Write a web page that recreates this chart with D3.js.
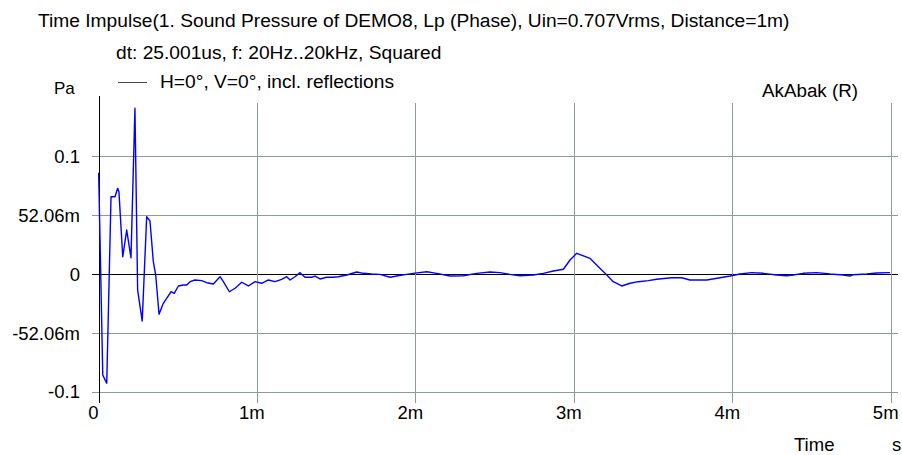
<!DOCTYPE html>
<html>
<head>
<meta charset="utf-8">
<script src="https://cdn.jsdelivr.net/npm/d3@7"></script>
<style>
  body { margin: 0; background: #fff; }
  svg text { font-family: "Liberation Sans", Arial, sans-serif; fill: #000; }
  .head { font-size: 19.2px; }
  .tick-label { font-size: 18.5px; }
</style>
</head>
<body>
<div id="chart"></div>
<script>
// time in ms, pressure in Pa
var timeMs = [
  0.001, 0.027, 0.037, 0.052, 0.079, 0.104, 0.121, 0.129, 0.153, 0.178,
  0.205, 0.230, 0.247, 0.276, 0.304, 0.325, 0.346, 0.361, 0.382, 0.409,
  0.430, 0.458, 0.478, 0.504, 0.535, 0.557, 0.578, 0.609, 0.651, 0.683,
  0.725, 0.767, 0.788, 0.826, 0.862, 0.904, 0.946, 0.988, 1.030, 1.072,
  1.114, 1.156, 1.188, 1.209, 1.240, 1.272, 1.303, 1.346, 1.367, 1.398,
  1.440, 1.482, 1.514, 1.567, 1.630, 1.671, 1.724, 1.777, 1.840, 1.882,
  1.945, 1.987, 2.072, 2.135, 2.219, 2.303, 2.387, 2.471, 2.534, 2.597,
  2.660, 2.744, 2.807, 2.871, 2.934, 2.976, 3.018, 3.102, 3.155, 3.208,
  3.249, 3.302, 3.355, 3.407, 3.470, 3.523, 3.618, 3.681, 3.733, 3.839,
  3.923, 3.986, 4.049, 4.123, 4.196, 4.281, 4.344, 4.385, 4.448, 4.533,
  4.617, 4.680, 4.743, 4.764, 4.849, 4.912, 4.996
];
var pressure = [
  0.0896, -0.0893, -0.0923, -0.0967, 0.0684, 0.0684, 0.0758, 0.0728, 0.0153, 0.0389,
  0.0144, 0.1466, -0.0142, -0.0416, 0.0507, 0.0469, 0.0109, -0.0009, -0.0356, -0.0259,
  -0.0215, -0.0157, -0.0171, -0.0106, -0.0097, -0.0097, -0.0068, -0.0053, -0.0059, -0.0077,
  -0.0088, -0.0024, -0.0068, -0.0157, -0.0126, -0.0073, -0.0106, -0.0068, -0.0082, -0.0053,
  -0.0068, -0.0047, -0.0024, -0.0053, -0.0024, 0.0012, -0.0029, -0.0029, -0.0018, -0.0044,
  -0.0029, -0.0029, -0.0024, -0.0009, 0.0018, 0.0006, 0.0000, -0.0003, -0.0029, -0.0018,
  -0.0003, 0.0006, 0.0020, 0.0006, -0.0018, -0.0015, 0.0006, 0.0018, 0.0012, -0.0003,
  -0.0015, -0.0009, 0.0006, 0.0027, 0.0042, 0.0124, 0.0183, 0.0139, 0.0065, -0.0009,
  -0.0068, -0.0106, -0.0082, -0.0068, -0.0059, -0.0047, -0.0033, -0.0033, -0.0053, -0.0053,
  -0.0033, -0.0018, 0.0000, 0.0012, 0.0006, -0.0009, -0.0015, -0.0009, 0.0006, 0.0012,
  0.0000, -0.0006, -0.0018, -0.0006, 0.0000, 0.0009, 0.0012
];

var xTicks = [0, 1, 2, 3, 4, 5];
var xTickLabels = ["0", "1m", "2m", "3m", "4m", "5m"];
var yTicks = [-0.10412, -0.05206, 0, 0.05206, 0.10412];
var yTickLabels = ["-0.1", "-52.06m", "0", "52.06m", "0.1"];

var titleLines = [
  "Time Impulse(1. Sound Pressure of DEMO8, Lp (Phase), Uin=0.707Vrms, Distance=1m)",
  "dt: 25.001us, f: 20Hz..20kHz, Squared"
];
var legendLabel = "H=0\u00b0, V=0\u00b0, incl. reflections";

var width = 902, height = 455;

var x = d3.scaleLinear().domain([0, 5]).range([98.5, 890.7]);
var y = d3.scaleLinear().domain([-0.10412, 0.10412]).range([391.7, 156.3]);

var svg = d3.select("#chart").append("svg")
    .attr("width", width)
    .attr("height", height);

// grid
var gridColor = "#8d9a9a";

svg.append("g")
  .selectAll("line")
  .data(yTicks)
  .enter().append("line")
    .attr("x1", 92).attr("x2", 898)
    .attr("y1", function(d) { return Math.round(y(d)) + 0.5; })
    .attr("y2", function(d) { return Math.round(y(d)) + 0.5; })
    .attr("stroke", function(d) { return d === 0 ? "#000" : gridColor; })
    .attr("stroke-width", 1);

svg.append("g")
  .selectAll("line")
  .data(xTicks.slice(1))
  .enter().append("line")
    .attr("x1", function(d) { return Math.round(x(d)) + 0.5; })
    .attr("x2", function(d) { return Math.round(x(d)) + 0.5; })
    .attr("y1", 103).attr("y2", 403)
    .attr("stroke", gridColor)
    .attr("stroke-width", 1);

// y axis line
svg.append("line")
    .attr("x1", Math.round(x(0)) + 0.5).attr("x2", Math.round(x(0)) + 0.5)
    .attr("y1", 96).attr("y2", 403)
    .attr("stroke", "#000")
    .attr("stroke-width", 1);

// tick labels
svg.append("g")
  .selectAll("text")
  .data(yTicks)
  .enter().append("text")
    .attr("class", "tick-label")
    .attr("x", 80)
    .attr("y", function(d) { return y(d); })
    .attr("dy", "0.36em")
    .attr("text-anchor", "end")
    .text(function(d, i) { return yTickLabels[i]; });

svg.append("g")
  .selectAll("text")
  .data(xTicks)
  .enter().append("text")
    .attr("class", "tick-label")
    .attr("x", function(d) { return x(d) - 5; })
    .attr("y", 419)
    .attr("text-anchor", "middle")
    .text(function(d, i) { return xTickLabels[i]; });

// curve
var points = timeMs.map(function(t, i) { return [t, pressure[i]]; });

var line = d3.line()
    .x(function(d) { return x(d[0]); })
    .y(function(d) { return y(d[1]); });

svg.append("path")
    .datum(points)
    .attr("fill", "none")
    .attr("stroke", "#0000ff")
    .attr("stroke-width", 1.4)
    .attr("stroke-linejoin", "round")
    .attr("d", line);

// header
svg.append("text").attr("class", "head").attr("x", 38).attr("y", 27).text(titleLines[0]);
svg.append("text").attr("class", "head").attr("x", 116).attr("y", 59).text(titleLines[1]);

svg.append("line")
    .attr("x1", 118).attr("x2", 147)
    .attr("y1", 82.5).attr("y2", 82.5)
    .attr("stroke", "#444")
    .attr("stroke-width", 1);
svg.append("text").attr("class", "head").attr("x", 160).attr("y", 88).text(legendLabel);

svg.append("text").attr("class", "head").attr("x", 54).attr("y", 94).style("font-size", "17px").text("Pa");
svg.append("text").attr("class", "head").attr("x", 762).attr("y", 97).style("font-size", "18.8px").text("AkAbak (R)");

svg.append("text").attr("class", "tick-label").attr("x", 794).attr("y", 451).text("Time");
svg.append("text").attr("class", "tick-label").attr("x", 892).attr("y", 451).text("s");
</script>
</body>
</html>
